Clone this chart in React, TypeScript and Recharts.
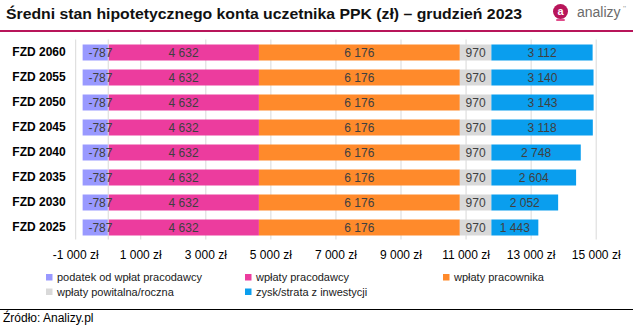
import React from 'react';
import { BarChart, Bar, XAxis, YAxis, CartesianGrid, ReferenceLine, LabelList } from 'recharts';

const categories = ['FZD 2060', 'FZD 2055', 'FZD 2050', 'FZD 2045', 'FZD 2040', 'FZD 2035', 'FZD 2030', 'FZD 2025'];
const podatek = [-787, -787, -787, -787, -787, -787, -787, -787];
const wplatyPracodawcy = [4632, 4632, 4632, 4632, 4632, 4632, 4632, 4632];
const wplatyPracownika = [6176, 6176, 6176, 6176, 6176, 6176, 6176, 6176];
const wplatyPowitalna = [970, 970, 970, 970, 970, 970, 970, 970];
const zysk = [3112, 3140, 3143, 3118, 2748, 2604, 2052, 1443];
const xTicks = [-1000, 1000, 3000, 5000, 7000, 9000, 11000, 13000, 15000];

const series = [
  { key: 'podatek', name: 'podatek od wpłat pracodawcy', color: '#9999FF', values: podatek },
  { key: 'pracodawcy', name: 'wpłaty pracodawcy', color: '#EC3C9E', values: wplatyPracodawcy },
  { key: 'pracownika', name: 'wpłaty pracownika', color: '#FF8A2B', values: wplatyPracownika },
  { key: 'powitalna', name: 'wpłaty powitalna/roczna', color: '#D9D9D9', values: wplatyPowitalna },
  { key: 'zysk', name: 'zysk/strata z inwestycji', color: '#0A9EEE', values: zysk },
];

const data = categories.map((name, i) => {
  const row: any = { name };
  series.forEach((s) => { row[s.key] = s.values[i]; });
  return row;
});

const fmt = (v: number) => {
  const neg = v < 0;
  const s = Math.abs(Math.round(v)).toString().replace(/\B(?=(\d{3})+(?!\d))/g, ' ');
  return (neg ? '-' : '') + s;
};

const FONT = '"Liberation Sans", Arial, sans-serif';

const legendPos = [
  { x: 46, y: 274 },
  { x: 245, y: 274 },
  { x: 443, y: 274 },
  { x: 46, y: 288.5 },
  { x: 245, y: 288.5 },
];

export default function App() {
  return (
    <div style={{ position: 'absolute', left: 0, top: 0, width: 633, height: 326, background: '#fff', fontFamily: FONT }}>
      <div style={{ position: 'absolute', left: 0, top: 0 }}>
        <BarChart
          width={633}
          height={326}
          data={data}
          layout="vertical"
          stackOffset="sign"
          margin={{ top: 39.5, right: 36.8, bottom: 56.5, left: 0 }}
          barSize={16}
        >
          <CartesianGrid horizontal={false} vertical={true} stroke="#D9D9D9" />
          <XAxis
            type="number"
            domain={[-1000, 15000]}
            ticks={xTicks}
            tickFormatter={(v: number) => fmt(v) + ' zł'}
            axisLine={false}
            tickLine={false}
            tickSize={0}
            tickMargin={10.5}
            height={30}
            tick={{ fill: '#000', fontSize: 12, fontFamily: FONT }}
            interval={0}
          />
          <YAxis
            type="category"
            dataKey="name"
            width={75.7}
            axisLine={false}
            tickLine={false}
            tickSize={0}
            tickMargin={10}
            tick={{ fill: '#000', fontSize: 12, fontWeight: 'bold', fontFamily: FONT }}
            interval={0}
          />
          <ReferenceLine x={0} stroke="#D9D9D9" />
          {series.map((s) => (
            <Bar key={s.key} dataKey={s.key} stackId="a" fill={s.color} isAnimationActive={false}>
              <LabelList
                dataKey={s.key}
                position="center"
                formatter={(v: any) => fmt(Number(v))}
                fill="#404040"
                fontSize={12}
                fontFamily={FONT}
                dx={s.key === 'podatek' ? 5 : 0}
              />
            </Bar>
          ))}
        </BarChart>
      </div>
      <svg width={633} height={326} style={{ position: 'absolute', left: 0, top: 0, pointerEvents: 'none' }}>
        <text x={6} y={18.5} fontSize={15} fontWeight="bold" fontFamily={FONT} fill="#111" textLength={516} lengthAdjust="spacingAndGlyphs">
          Średni stan hipotetycznego konta uczetnika PPK (zł) – grudzień 2023
        </text>
        <rect x={0} y={30} width={633} height={2} fill="#B8155A" />
        <circle cx={560.5} cy={11.5} r={7.5} fill="#B8155A" />
        <rect x={556} y={19} width={9} height={2} rx={1} fill="#E04C8A" />
        <text x={560.5} y={15} fontSize={11} fontWeight="bold" fontFamily={FONT} fill="#fff" textAnchor="middle">a</text>
        <text x={577} y={16.5} fontSize={14} fontFamily={FONT} fill="#6b6b6b">analizy</text>
        <text x={623} y={11} fontSize={8} fontFamily={FONT} fill="#999">''</text>
        {series.map((s, i) => (
          <g key={s.key}>
            <rect x={legendPos[i].x} y={legendPos[i].y} width={6.5} height={6.5} fill={s.color} />
            <text x={legendPos[i].x + 11} y={legendPos[i].y + 7} fontSize={11} fontFamily={FONT} fill="#1a1a1a">{s.name}</text>
          </g>
        ))}
        <rect x={0} y={309} width={633} height={1} fill="#000" />
        <text x={3} y={321.5} fontSize={12} fontFamily={FONT} fill="#000">Źródło: Analizy.pl</text>
      </svg>
    </div>
  );
}
